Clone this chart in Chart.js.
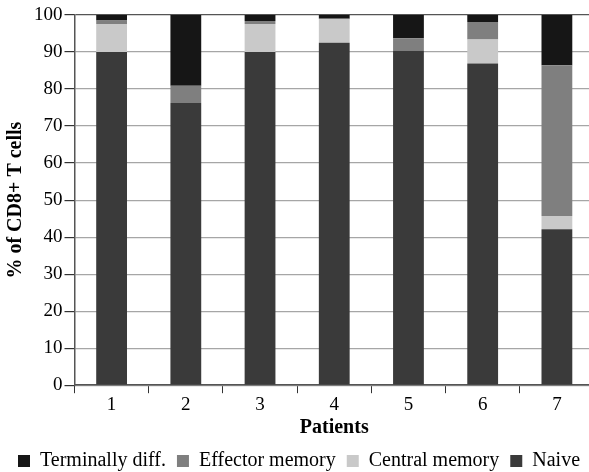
<!DOCTYPE html>
<html>
<head>
<meta charset="utf-8">
<script src="https://cdn.jsdelivr.net/npm/chart.js@4"></script>
<style>
  html, body { margin: 0; padding: 0; background: #fff; overflow: hidden; }
  #wrap { width: 602px; height: 472px; }
</style>
</head>
<body>
<div id="wrap"><canvas id="cellChart" width="602" height="472"></canvas></div>
<script>
const patients = ['1', '2', '3', '4', '5', '6', '7'];

// % of CD8+ T cells, bottom to top
const naive    = [90.0, 76.2, 90.0, 92.5, 90.3, 86.9, 42.1];
const central  = [7.6, 0, 7.6, 6.5, 0, 6.5, 3.6];
const effector = [0.9, 4.7, 0.8, 0, 3.4, 4.7, 40.7];
const terminal = [1.5, 19.1, 1.6, 1.0, 6.3, 1.9, 13.6];

const serif = '"Liberation Serif", "Times New Roman", serif';
Chart.defaults.font.family = serif;
Chart.defaults.color = '#000';

const ctx = document.getElementById('cellChart').getContext('2d');

new Chart(ctx, {
    type: 'bar',
    data: {
        labels: patients,
        datasets: [
            { label: 'Naive', data: naive, backgroundColor: '#3a3a3a' },
            { label: 'Central memory', data: central, backgroundColor: '#c9c9c9' },
            { label: 'Effector memory', data: effector, backgroundColor: '#7f7f7f' },
            { label: 'Terminally diff.', data: terminal, backgroundColor: '#161616' }
        ]
    },
    options: {
        responsive: false,
        animation: false,
        layout: { padding: { left: 4, right: 8, top: 15, bottom: -9 } },
        datasets: {
            bar: { categoryPercentage: 1, barPercentage: 0.415 }
        },
        plugins: {
            tooltip: { enabled: false },
            legend: {
                position: 'bottom',
                reverse: true,
                labels: {
                    boxWidth: 12,
                    boxHeight: 12,
                    padding: 11,
                    color: '#000',
                    font: { size: 20, family: serif }
                }
            }
        },
        scales: {
            x: {
                stacked: true,
                grid: { drawOnChartArea: false, drawTicks: true, tickLength: 8, tickColor: '#333', offset: true },
                border: { color: '#555', width: 1.5 },
                ticks: { font: { size: 19 }, color: '#000', padding: 0 },
                title: { display: true, text: 'Patients', font: { size: 20, weight: 'bold' }, color: '#000', padding: { top: 0, bottom: 0 } }
            },
            y: {
                stacked: true,
                min: 0,
                max: 100,
                ticks: { stepSize: 10, font: { size: 19 }, color: '#000', padding: 2 },
                grid: {
                    color: ctx => ctx.tick && ctx.tick.value === 100 ? '#555' : '#a6a6a6',
                    lineWidth: 1.2,
                    tickLength: 10,
                    tickColor: '#333'
                },
                border: { color: '#555', width: 1.5 },
                title: { display: true, text: '% of CD8+ T cells', font: { size: 20, weight: 'bold' }, color: '#000', padding: { top: 0, bottom: 4 } }
            }
        }
    }
});
</script>
</body>
</html>
